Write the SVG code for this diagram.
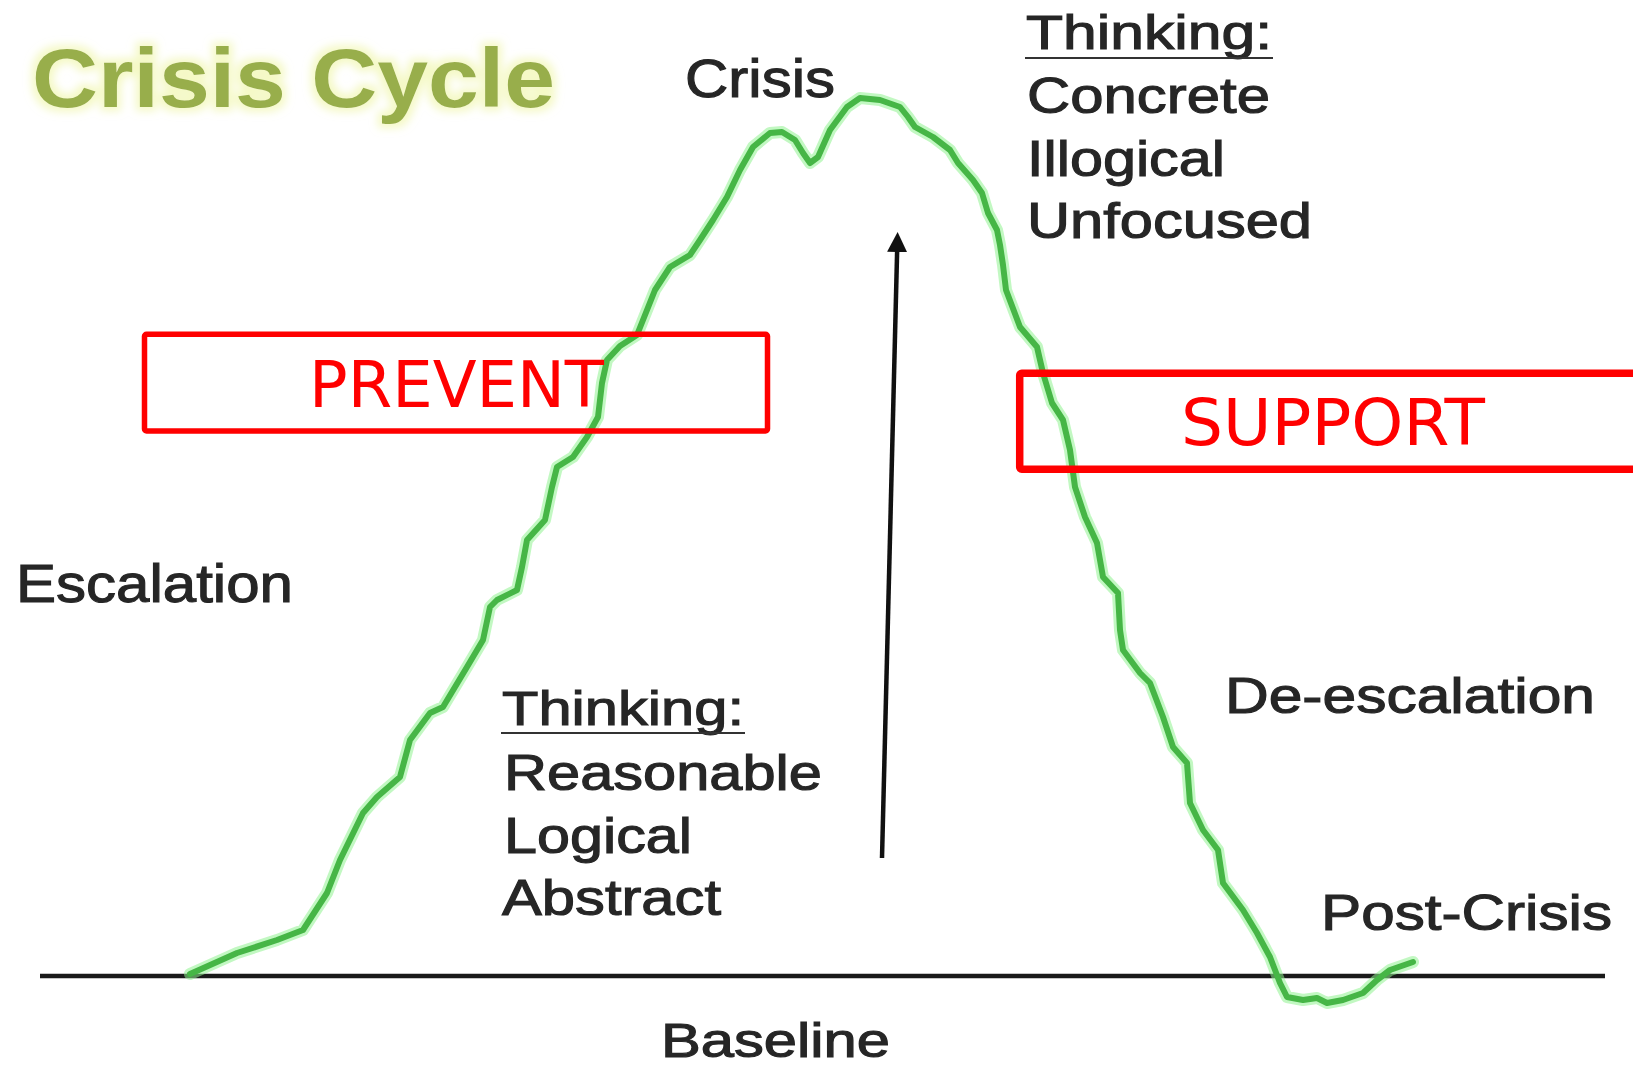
<svg xmlns="http://www.w3.org/2000/svg" width="1633" height="1068" viewBox="0 0 1633 1068">
  <style>
    .lbl { font-family: "Liberation Sans", Arial, sans-serif; fill: #262626; stroke: #262626; stroke-width: 1.1; }
    .title { font-family: "Liberation Sans", Arial, sans-serif; font-weight: bold; fill: #98AE4C; }
    .boxtxt { font-family: "DejaVu Sans", sans-serif; fill: #FF0000; font-size: 64px; }
    .box { fill: none; stroke: #FF0000; }
    .ul { stroke: #333; stroke-width: 2.2; }
    .glow { fill: none; stroke: #8FF28F; stroke-width: 12; stroke-linejoin: round; stroke-linecap: round; opacity: 0.55; }
    .core { fill: none; stroke: #46B646; stroke-width: 6; stroke-linejoin: round; stroke-linecap: round; }
  </style>
  <defs>
    <marker id="ah" markerUnits="userSpaceOnUse" markerWidth="22" markerHeight="22" refX="4" refY="10" orient="auto">
      <path d="M0,0 L20,10 L0,20 z" fill="#111"/>
    </marker>
    <filter id="tglow" x="-10%" y="-30%" width="120%" height="160%">
      <feMorphology in="SourceAlpha" operator="dilate" radius="4" result="d"/>
      <feGaussianBlur in="d" stdDeviation="4" result="b"/>
      <feFlood flood-color="#F2F7B8" flood-opacity="0.8"/>
      <feComposite in2="b" operator="in" result="g"/>
      <feMerge><feMergeNode in="g"/><feMergeNode in="SourceGraphic"/></feMerge>
    </filter>
  </defs>
  <rect width="1633" height="1068" fill="#FFFFFF"/>

  <g id="title">
    <text class="title" x="32" y="107" font-size="84" textLength="523" lengthAdjust="spacingAndGlyphs" filter="url(#tglow)">Crisis Cycle</text>
  </g>

  <g id="baseline-axis">
    <line x1="40" y1="976" x2="1605" y2="976" stroke="#1a1a1a" stroke-width="4.5"/>
  </g>

  <g id="crisis-curve">
    <polyline class="glow" points="190,974 237,953 277,940 303,930 327,893 340,860 363,813 377,797 400,777 410,740 430,713 443,707 467,667 483,640 490,607 497,600 517,590 522,567 527,540 545,520 552,487 557,467 573,457 587,437 598,417 602,383 607,360 620,346 637,335 647,310 655,290 670,267 690,255 700,240 713,220 727,197 740,170 753,147 770,133 782,132 795,140 803,153 810,163 818,157 830,130 847,107 860,98 880,100 900,107 908,117 915,127 933,137 950,150 958,163 973,180 982,193 988,213 997,230 1000,245 1003,265 1006,290 1020,327 1037,347 1043,373 1052,403 1063,420 1070,450 1075,487 1085,517 1097,543 1103,577 1118,593 1120,630 1123,650 1140,673 1150,683 1163,717 1173,747 1187,763 1190,803 1203,830 1218,850 1223,883 1243,910 1257,933 1270,957 1280,983 1287,997 1303,1000 1317,998 1327,1003 1343,1000 1363,993 1377,980 1390,970 1413,962"/>
    <polyline class="core" points="190,974 237,953 277,940 303,930 327,893 340,860 363,813 377,797 400,777 410,740 430,713 443,707 467,667 483,640 490,607 497,600 517,590 522,567 527,540 545,520 552,487 557,467 573,457 587,437 598,417 602,383 607,360 620,346 637,335 647,310 655,290 670,267 690,255 700,240 713,220 727,197 740,170 753,147 770,133 782,132 795,140 803,153 810,163 818,157 830,130 847,107 860,98 880,100 900,107 908,117 915,127 933,137 950,150 958,163 973,180 982,193 988,213 997,230 1000,245 1003,265 1006,290 1020,327 1037,347 1043,373 1052,403 1063,420 1070,450 1075,487 1085,517 1097,543 1103,577 1118,593 1120,630 1123,650 1140,673 1150,683 1163,717 1173,747 1187,763 1190,803 1203,830 1218,850 1223,883 1243,910 1257,933 1270,957 1280,983 1287,997 1303,1000 1317,998 1327,1003 1343,1000 1363,993 1377,980 1390,970 1413,962"/>
  </g>

  <g id="connectors">
    <line x1="882" y1="858" x2="897.2" y2="248" stroke="#111" stroke-width="4.5" marker-end="url(#ah)"/>
  </g>

  <g id="label-crisis">
    <text class="lbl" x="685" y="97" font-size="54" textLength="150" lengthAdjust="spacingAndGlyphs">Crisis</text>
  </g>

  <g id="thinking-crisis">
    <text class="lbl" x="1026" y="49" font-size="49" textLength="246" lengthAdjust="spacingAndGlyphs">Thinking:</text>
    <line class="ul" x1="1025" y1="58" x2="1273" y2="58"/>
    <text class="lbl" x="1027" y="113" font-size="50" textLength="243" lengthAdjust="spacingAndGlyphs">Concrete</text>
    <text class="lbl" x="1027" y="176" font-size="50" textLength="198" lengthAdjust="spacingAndGlyphs">Illogical</text>
    <text class="lbl" x="1027" y="238" font-size="50" textLength="285" lengthAdjust="spacingAndGlyphs">Unfocused</text>
  </g>

  <g id="prevent">
    <rect class="box" x="144.5" y="334.3" width="623" height="96.7" rx="2" stroke-width="5.5"/>
    <text class="boxtxt" x="309" y="407" textLength="295" lengthAdjust="spacingAndGlyphs">PREVENT</text>
  </g>

  <g id="support">
    <rect class="box" x="1019.7" y="373.3" width="700" height="96" rx="2" stroke-width="7.5"/>
    <text class="boxtxt" x="1181" y="445" textLength="304" lengthAdjust="spacingAndGlyphs">SUPPORT</text>
  </g>

  <g id="label-escalation">
    <text class="lbl" x="16" y="602" font-size="54" textLength="277" lengthAdjust="spacingAndGlyphs">Escalation</text>
  </g>

  <g id="thinking-baseline">
    <text class="lbl" x="502" y="725" font-size="49" textLength="242" lengthAdjust="spacingAndGlyphs">Thinking:</text>
    <line class="ul" x1="501" y1="733" x2="745" y2="733"/>
    <text class="lbl" x="504" y="790" font-size="50" textLength="318" lengthAdjust="spacingAndGlyphs">Reasonable</text>
    <text class="lbl" x="504" y="853" font-size="50" textLength="188" lengthAdjust="spacingAndGlyphs">Logical</text>
    <text class="lbl" x="502" y="915" font-size="50" textLength="219" lengthAdjust="spacingAndGlyphs">Abstract</text>
  </g>

  <g id="label-deescalation">
    <text class="lbl" x="1225" y="713" font-size="50" textLength="370" lengthAdjust="spacingAndGlyphs">De-escalation</text>
  </g>

  <g id="label-postcrisis">
    <text class="lbl" x="1321" y="930" font-size="50" textLength="291" lengthAdjust="spacingAndGlyphs">Post-Crisis</text>
  </g>

  <g id="label-baseline">
    <text class="lbl" x="661" y="1057" font-size="48" textLength="229" lengthAdjust="spacingAndGlyphs">Baseline</text>
  </g>
</svg>
